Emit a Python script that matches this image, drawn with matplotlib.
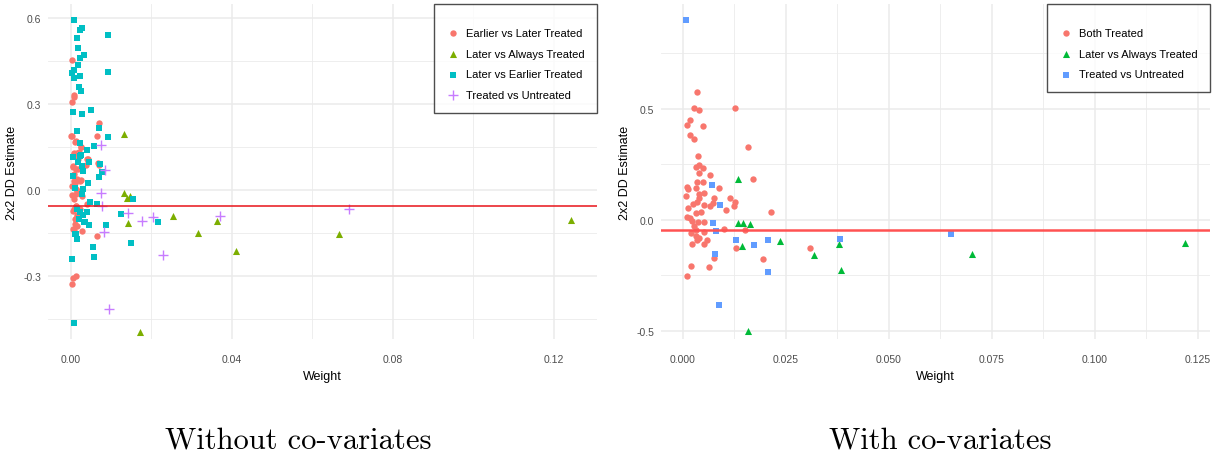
import matplotlib
matplotlib.use("Agg")
import matplotlib.pyplot as plt
import numpy as np

plt.rcParams['font.family'] = ['Liberation Sans', 'DejaVu Sans']

# ---- left panel: without co-variates ----
l_elt_w = [0.0003, 0.0007, 0.0007, 0.0003, 0.0070, 0.0002, 0.0064, 0.0010, 0.0024, 0.0016,
           0.0007, 0.0041, 0.0070, 0.0037, 0.0006, 0.0012, 0.0016, 0.0007, 0.0022, 0.0003,
           0.0013, 0.0002, 0.0013, 0.0027, 0.0041, 0.0007, 0.0012, 0.0010, 0.0016, 0.0007,
           0.0027, 0.0064, 0.0012, 0.0004, 0.0002, 0.0000, 0.0012, 0.0025, 0.0020, 0.0008,
           0.0018, 0.0043, 0.0006, 0.0017, 0.0068, 0.0008, 0.0025, 0.0010, 0.0018, 0.0008,
           0.0012, 0.0022, 0.0014, 0.0006, 0.0014, 0.0010, 0.0006]
l_elt_y = [0.454, 0.332, 0.326, 0.306, 0.234, 0.187, 0.187, 0.168, 0.151, 0.128,
           0.130, 0.108, 0.088, 0.087, 0.079, 0.073, 0.038, 0.033, 0.033, 0.015,
           0.003, -0.017, -0.015, -0.022, -0.049, -0.066, -0.056, -0.101, -0.124, -0.138,
           -0.141, -0.161, -0.301, -0.307, -0.329, 0.189, 0.170, 0.152, 0.134, 0.126,
           0.110, 0.108, 0.083, 0.073, 0.094, 0.056, 0.036, 0.024, -0.002, -0.031,
           -0.055, -0.066, -0.087, -0.072, -0.095, -0.119, -0.136]

l_lat_w = [0.0132, 0.0132, 0.0138, 0.0147, 0.0142, 0.0253, 0.0315, 0.0362, 0.0409, 0.0171,
           0.0667, 0.1242]
l_lat_y = [0.195, -0.010, -0.026, -0.022, -0.115, -0.092, -0.151, -0.108, -0.214, -0.494,
           -0.153, -0.104]

l_lvse_w = [0.0007, 0.0027, 0.0022, 0.0016, 0.0093, 0.0018, 0.0033, 0.0022, 0.0018, 0.0002,
            0.0007, 0.0007, 0.0022, 0.0093, 0.0021, 0.0024, 0.0004, 0.0028, 0.0049, 0.0016,
            0.0070, 0.0093, 0.0022, 0.0041, 0.0058, 0.0004, 0.0024, 0.0045, 0.0027, 0.0006,
            0.0029, 0.0076, 0.0070, 0.0043, 0.0031, 0.0155, 0.0064, 0.0047, 0.0022, 0.0041,
            0.0031, 0.0124, 0.0020, 0.0035, 0.0045, 0.0086, 0.0216, 0.0010, 0.0016, 0.0148,
            0.0054, 0.0058, 0.0003, 0.0007, 0.0017, 0.0072, 0.0010, 0.0027, 0.0014, 0.0039,
            0.0033, 0.0012, 0.0022]
l_lvse_y = [0.593, 0.567, 0.559, 0.532, 0.542, 0.495, 0.472, 0.460, 0.436, 0.408,
            0.419, 0.391, 0.397, 0.413, 0.358, 0.345, 0.273, 0.265, 0.280, 0.207,
            0.215, 0.184, 0.164, 0.141, 0.155, 0.117, 0.123, 0.097, 0.085, 0.050,
            0.067, 0.062, 0.044, 0.023, 0.003, -0.031, -0.049, -0.043, -0.078, -0.078,
            -0.087, -0.083, -0.101, -0.113, -0.122, -0.121, -0.113, -0.153, -0.169, -0.183,
            -0.198, -0.235, -0.242, -0.464, 0.099, 0.091, 0.006, -0.014, -0.066, -0.078,
            -0.113, -0.153, 0.120]

l_tvu_w = [0.0075, 0.0084, 0.0075, 0.0076, 0.0142, 0.0176, 0.0203, 0.0370, 0.0082, 0.0228,
           0.0095, 0.0691]
l_tvu_y = [0.158, 0.071, -0.010, -0.057, -0.081, -0.109, -0.095, -0.090, -0.145, -0.227,
           -0.415, -0.066]
l_avg = -0.056

# ---- right panel: with co-variates ----
r_both_w = [0.0033, 0.0027, 0.0039, 0.0126, 0.0017, 0.0011, 0.0049, 0.0017, 0.0027, 0.0159,
            0.0037, 0.0040, 0.0032, 0.0049, 0.0040, 0.0066, 0.0171, 0.0049, 0.0010, 0.0013,
            0.0032, 0.0087, 0.0051, 0.0007, 0.0040, 0.0075, 0.0114, 0.0040, 0.0126, 0.0124,
            0.0072, 0.0024, 0.0035, 0.0052, 0.0013, 0.0032, 0.0043, 0.0105, 0.0214, 0.0010,
            0.0017, 0.0021, 0.0036, 0.0052, 0.0100, 0.0150, 0.0032, 0.0052, 0.0032, 0.0040,
            0.0035, 0.0058, 0.0051, 0.0021, 0.0129, 0.0309, 0.0075, 0.0195, 0.0019, 0.0064,
            0.0009, 0.0033, 0.0066, 0.0019, 0.0028]
r_both_y = [0.578, 0.503, 0.495, 0.503, 0.452, 0.428, 0.422, 0.383, 0.365, 0.330,
            0.290, 0.248, 0.237, 0.233, 0.212, 0.204, 0.185, 0.170, 0.147, 0.138,
            0.144, 0.144, 0.122, 0.107, 0.098, 0.098, 0.098, 0.117, 0.080, 0.062,
            0.077, 0.072, 0.082, 0.068, 0.053, 0.032, 0.035, 0.045, 0.035, 0.012,
            0.008, -0.003, -0.011, -0.011, -0.041, -0.048, -0.048, -0.056, -0.071, -0.083,
            -0.089, -0.093, -0.108, -0.111, -0.126, -0.128, -0.171, -0.176, -0.209, -0.213,
            -0.254, 0.172, 0.062, -0.060, -0.030]

r_lat_w = [0.0133, 0.0133, 0.0146, 0.0163, 0.0144, 0.0235, 0.0318, 0.0379, 0.0384, 0.0158,
           0.0703, 0.1218]
r_lat_y = [0.185, -0.014, -0.015, -0.018, -0.116, -0.096, -0.158, -0.111, -0.228, -0.503,
           -0.153, -0.105]

r_tvu_w = [0.0007, 0.0071, 0.0090, 0.0072, 0.0080, 0.0129, 0.0173, 0.0206, 0.0381, 0.0078,
           0.0206, 0.0088, 0.0652]
r_tvu_y = [0.901, 0.159, 0.069, -0.015, -0.051, -0.090, -0.113, -0.093, -0.086, -0.153,
           -0.236, -0.383, -0.066]
r_avg = -0.045

grid_c = '#EBEBEB'
tick_c = '#4D4D4D'


def style(ax, xmaj, xmin, ymaj, ymin, xfmt, yfmt):
    for s in ax.spines.values():
        s.set_visible(False)
    ax.set_xticks(xmaj)
    ax.set_xticks(xmin, minor=True)
    ax.set_yticks(ymaj)
    ax.set_yticks(ymin, minor=True)
    ax.set_xticklabels([xfmt % v for v in xmaj])
    ax.set_yticklabels([yfmt % v for v in ymaj])
    ax.grid(which='major', color=grid_c, lw=1.1)
    ax.grid(which='minor', color=grid_c, lw=0.6)
    ax.set_axisbelow(True)
    ax.tick_params(which='both', length=0, labelsize=7.5, labelcolor=tick_c)
    ax.tick_params(axis='x', pad=11)
    ax.tick_params(axis='y', pad=5)
    ax.set_xlabel('Weight', fontsize=9, labelpad=4)
    ax.set_ylabel('2x2 DD Estimate', fontsize=9, labelpad=4)


def add_legend(ax):
    leg = ax.legend(loc='upper right', bbox_to_anchor=(1, 1), borderaxespad=0, fontsize=8,
                    title=' ', title_fontsize=1,
                    frameon=True, fancybox=False, edgecolor='#222222', borderpad=1.15,
                    labelspacing=0.95, handletextpad=0.6, handlelength=1.1, scatterpoints=1)
    leg.get_frame().set_linewidth(1.0)
    return leg


fig = plt.figure(figsize=(12.13, 4.56), dpi=100)

# left
ax1 = fig.add_axes([0.0396, 0.254, 0.4526, 0.735])
ax1.scatter(l_elt_w, l_elt_y, s=21, marker='o', color='#F8766D', lw=0, label='Earlier vs Later Treated')
ax1.scatter(l_lat_w, l_lat_y, s=26, marker='^', color='#7CAE00', lw=0, label='Later vs Always Treated')
ax1.scatter(l_lvse_w, l_lvse_y, s=21, marker='s', color='#00BFC4', lw=0, label='Later vs Earlier Treated')
ax1.scatter(l_tvu_w, l_tvu_y, s=60, marker='+', color='#C77CFF', lw=1.0, label='Treated vs Untreated')
ax1.axhline(l_avg, color='#E8141A', lw=1.1)
ax1.set_xlim(-0.0057, 0.1307)
ax1.set_ylim(-0.52, 0.649)
style(ax1, [0, 0.04, 0.08, 0.12], [0.02, 0.06, 0.10],
      [-0.3, 0.0, 0.3, 0.6], [-0.45, -0.15, 0.15, 0.45], '%.2f', '%.1f')
add_legend(ax1)

# right
ax2 = fig.add_axes([0.545, 0.254, 0.4526, 0.735])
ax2.scatter(r_both_w, r_both_y, s=21, marker='o', color='#F8766D', lw=0, label='Both Treated')
ax2.scatter(r_lat_w, r_lat_y, s=26, marker='^', color='#00BA38', lw=0, label='Later vs Always Treated')
ax2.scatter(r_tvu_w, r_tvu_y, s=21, marker='s', color='#619CFF', lw=0, label='Treated vs Untreated')
ax2.axhline(r_avg, color='#FF5252', lw=1.8)
ax2.set_xlim(-0.0053, 0.128)
ax2.set_ylim(-0.538, 0.973)
style(ax2, [0, 0.025, 0.05, 0.075, 0.1, 0.125], [0.0125, 0.0375, 0.0625, 0.0875, 0.1125],
      [-0.5, 0.0, 0.5], [-0.25, 0.25, 0.75], '%.3f', '%.1f')
add_legend(ax2)

fig.text(0.246, 0.033, 'Without co-variates', family='cmr10', fontsize=22, ha='center', va='center')
fig.text(0.775, 0.033, 'With co-variates', family='cmr10', fontsize=22, ha='center', va='center')

fig.savefig('out.png', dpi=100)
